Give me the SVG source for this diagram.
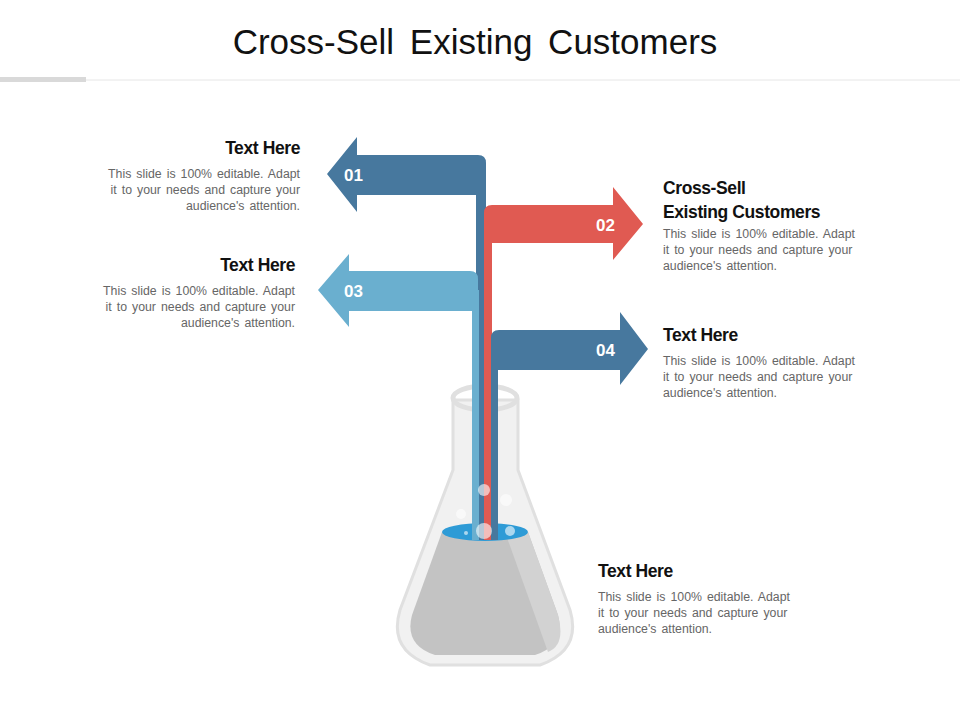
<svg xmlns="http://www.w3.org/2000/svg" width="960" height="720" viewBox="0 0 960 720">
<style>
.h{font-family:"Liberation Sans",Arial,sans-serif;font-weight:bold;font-size:17.5px;fill:#111;letter-spacing:-0.4px}
.b{font-family:"Liberation Sans",Arial,sans-serif;font-size:12.3px;fill:#666;word-spacing:1.6px}
.n{font-family:"Liberation Sans",Arial,sans-serif;font-weight:bold;font-size:17px;fill:#fff}
.r{text-anchor:end}
</style>
<rect width="960" height="720" fill="#fff"/>
<text x="475" y="54" text-anchor="middle" style="font-family:'Liberation Sans',Arial,sans-serif;font-size:35px;fill:#111;word-spacing:6px">Cross-Sell Existing Customers</text>
<line x1="0" y1="80" x2="960" y2="80" stroke="#e6e6e6" stroke-width="1"/>
<rect x="0" y="77" width="86" height="5" fill="#d9d9d9"/>
<g id="flask">
<path d="M453,400 L453,470 L400,610 Q388,650 430,665 L540,665 Q582,650 570,610 L518,470 L518,400 Z" fill="#f1f1f1" stroke="#e0e0e0" stroke-width="3"/>
<path d="M442,532 L412,615 Q404,645 435,655 L535,655 Q566,645 558,615 L528,532 Z" fill="#c3c3c3"/>
<path d="M505,532 L528,532 L558,615 Q566,645 548,652 Z" fill="#d2d2d2"/>
<ellipse cx="485" cy="532" rx="43" ry="9" fill="#2e9bd6"/>
<ellipse cx="485" cy="398" rx="32" ry="12" fill="none" stroke="#e0e0e0" stroke-width="5"/>
</g>
<g id="connectors">
<rect x="476" y="165" width="10" height="375" fill="#47789e"/>
<rect x="472" y="290" width="7" height="250" fill="#6aafcf"/>
<rect x="484" y="215" width="8" height="325" fill="#e05a52"/>
<rect x="491" y="340" width="7" height="200" fill="#47789e"/>
</g>
<g id="n01">
<path d="M327,174 L357,137 L357,155 L478,155 Q486,155 486,163 L486,200 L476,200 L476,195 L357,195 L357,212 Z" fill="#47789e"/>
<text x="344" y="181" class="n">01</text>
<text x="300" y="154" class="h r">Text Here</text>
<text class="b r"><tspan x="300" y="178">This slide is 100% editable. Adapt</tspan><tspan x="300" y="194">it to your needs and capture your</tspan><tspan x="300" y="210">audience's attention.</tspan></text>
</g>
<g id="n02">
<path d="M643,224 L613,187 L613,205 L492,205 Q484,205 484,213 L484,250 L492,250 L492,243 L613,243 L613,260 Z" fill="#e05a52"/>
<text x="596" y="231" class="n">02</text>
<text class="h"><tspan x="663" y="194">Cross-Sell</tspan><tspan x="663" y="218">Existing Customers</tspan></text>
<text class="b"><tspan x="663" y="238">This slide is 100% editable. Adapt</tspan><tspan x="663" y="254">it to your needs and capture your</tspan><tspan x="663" y="270">audience's attention.</tspan></text>
</g>
<g id="n03">
<path d="M318,290 L349,254 L349,271 L470,271 Q478,271 478,279 L478,315 L472,315 L472,311 L349,311 L349,327 Z" fill="#6aafcf"/>
<text x="344" y="297" class="n">03</text>
<text x="295" y="271" class="h r">Text Here</text>
<text class="b r"><tspan x="295" y="295">This slide is 100% editable. Adapt</tspan><tspan x="295" y="311">it to your needs and capture your</tspan><tspan x="295" y="327">audience's attention.</tspan></text>
</g>
<g id="n04">
<path d="M648,349 L620,312 L620,330 L499,330 Q491,330 491,338 L491,375 L498,375 L498,370 L620,370 L620,385 Z" fill="#47789e"/>
<text x="596" y="356" class="n">04</text>
<text x="663" y="341" class="h">Text Here</text>
<text class="b"><tspan x="663" y="365">This slide is 100% editable. Adapt</tspan><tspan x="663" y="381">it to your needs and capture your</tspan><tspan x="663" y="397">audience's attention.</tspan></text>
</g>
<g id="bubbles" fill="#fff" opacity="0.6">
<circle cx="484" cy="490" r="6"/><circle cx="506" cy="500" r="6"/><circle cx="461" cy="514" r="5"/>
<circle cx="484" cy="531" r="8"/><circle cx="510" cy="531" r="5"/><circle cx="466" cy="533" r="2"/>
</g>
<g id="n05">
<text x="598" y="577" class="h">Text Here</text>
<text class="b"><tspan x="598" y="601">This slide is 100% editable. Adapt</tspan><tspan x="598" y="617">it to your needs and capture your</tspan><tspan x="598" y="633">audience's attention.</tspan></text>
</g>
</svg>
